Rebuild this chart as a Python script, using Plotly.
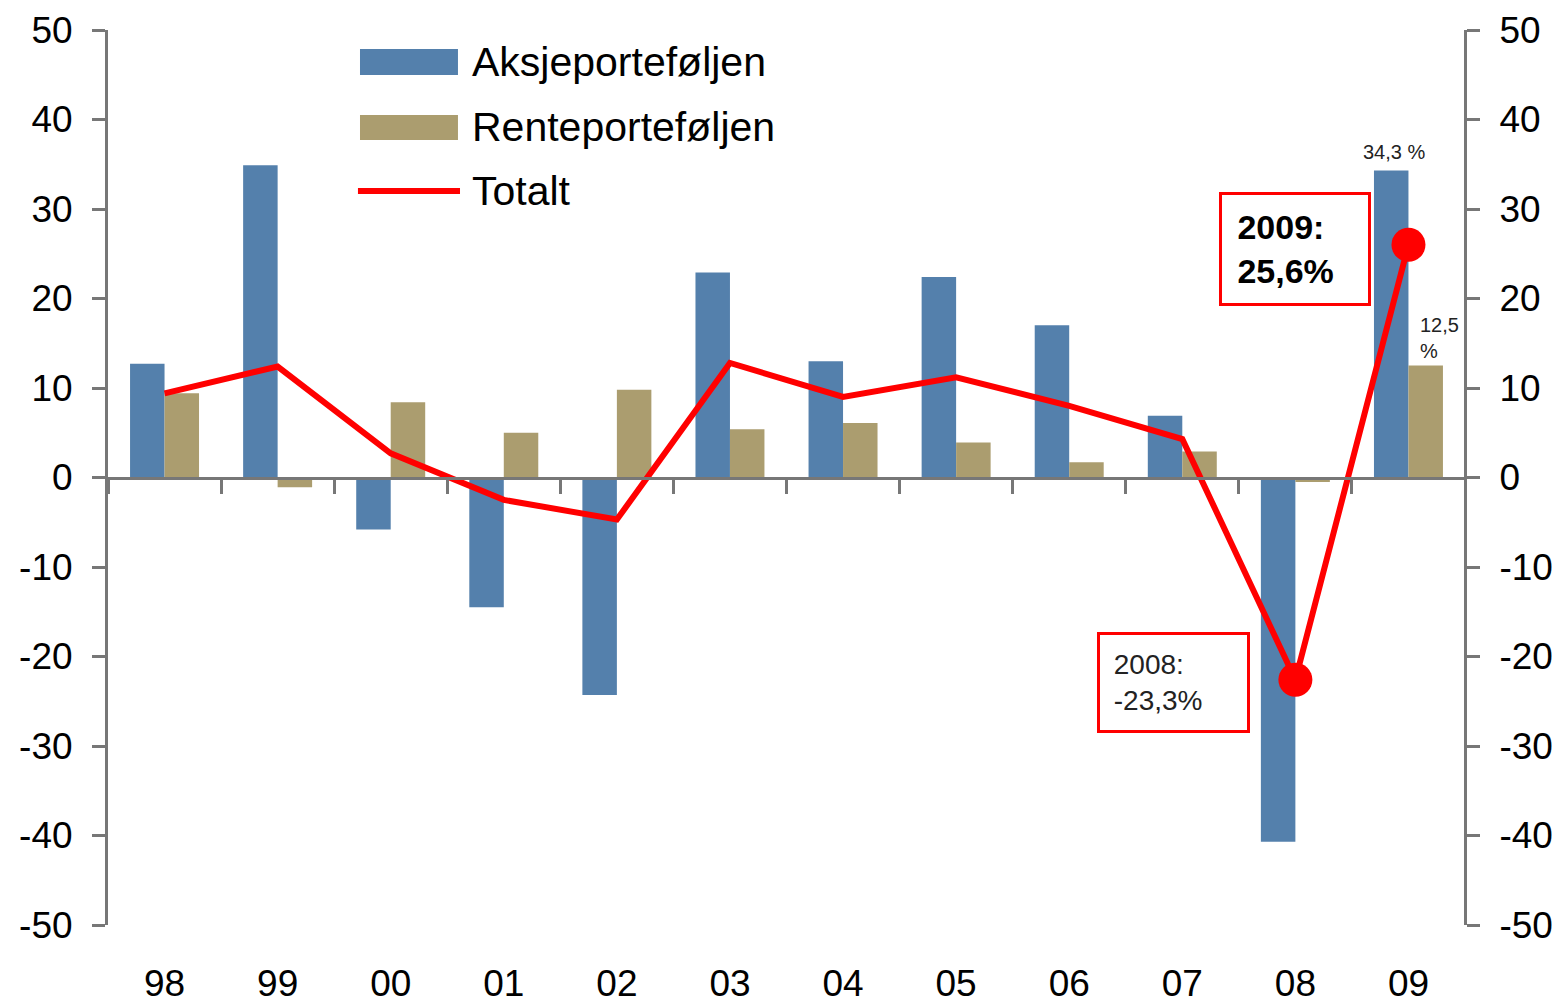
import plotly.graph_objects as go

# ---- data ----
years = ["98", "99", "00", "01", "02", "03", "04", "05", "06", "07", "08", "09"]
aksje = [12.7, 34.9, -5.8, -14.5, -24.3, 22.9, 13.0, 22.4, 17.0, 6.9, -40.7, 34.3]
rente = [9.4, -1.1, 8.4, 5.0, 9.8, 5.4, 6.1, 3.9, 1.7, 2.9, -0.5, 12.5]
totalt = [9.4, 12.4, 2.7, -2.5, -4.7, 12.8, 9.0, 11.2, 8.0, 4.3, -22.6, 26.0]
marker_sizes = [0, 0, 0, 0, 0, 0, 0, 0, 0, 0, 34, 34]
y_ticks = [50, 40, 30, 20, 10, 0, -10, -20, -30, -40, -50]

BLUE = "#5480AC"
GOLD = "#AB9D6F"
RED = "#FF0000"
GRAY = "#777777"
FONT = "Liberation Sans, Arial, sans-serif"

fig = go.Figure()
fig.add_trace(go.Bar(x=years, y=aksje, name="Aksjeporteføljen", marker_color=BLUE,
                     marker_line_width=0, showlegend=False))
fig.add_trace(go.Bar(x=years, y=rente, name="Renteporteføljen", marker_color=GOLD,
                     marker_line_width=0, showlegend=False))
fig.add_trace(go.Scatter(x=years, y=totalt, name="Totalt", mode="lines+markers",
                         line=dict(color=RED, width=6),
                         marker=dict(color=RED, size=marker_sizes, line_width=0, opacity=1),
                         xaxis="x2", yaxis="y2", showlegend=False, cliponaxis=False))

axis_common = dict(range=[-50, 50], tickvals=y_ticks, ticktext=[str(v) for v in y_ticks],
                   showgrid=False, zeroline=False, showline=True, linecolor=GRAY,
                   linewidth=3, ticks="outside", ticklen=13, tickwidth=3, tickcolor=GRAY,
                   tickfont=dict(family=FONT, size=37, color="#000000"),
                   ticklabelstandoff=12, automargin=False)

cat_range = [-0.5, len(years) - 0.5]

# page body adds an 8px offset, so the figure is sized to fit inside the window
fig.update_layout(
    width=1556, height=997,
    margin=dict(l=100, r=99, t=22, b=80),
    paper_bgcolor="white", plot_bgcolor="white",
    barmode="group", bargap=0.39, bargroupgap=0,
    font=dict(family=FONT, color="#000000"),
    xaxis=dict(type="category", range=cat_range, autorange=False,
               showline=False, showgrid=False, zeroline=False,
               ticks="", tickfont=dict(family=FONT, size=37, color="#000000"),
               ticklabelstandoff=33, automargin=False),
    xaxis2=dict(type="category", overlaying="x", matches="x", anchor="free",
                position=0.5, showline=True, linecolor=GRAY, linewidth=3,
                ticks="outside", ticklen=14, tickwidth=3, tickcolor=GRAY,
                tickson="boundaries", showticklabels=False, showgrid=False,
                zeroline=False, automargin=False),
    yaxis=dict(side="left", **axis_common),
    yaxis2=dict(side="right", overlaying="y", anchor="free", position=1,
                **axis_common),
)

# ---- legend (drawn in paper coordinates) ----
fig.add_shape(type="rect", xref="paper", yref="paper", x0=0.1857, x1=0.2579,
              y0=0.9497, y1=0.9788, fillcolor=BLUE, line_width=0)
fig.add_shape(type="rect", xref="paper", yref="paper", x0=0.1857, x1=0.2579,
              y0=0.8771, y1=0.9050, fillcolor=GOLD, line_width=0)
fig.add_shape(type="line", xref="paper", yref="paper", x0=0.1842, x1=0.2594,
              y0=0.8201, y1=0.8201, line=dict(color=RED, width=6))
for label, yy in [("Aksjeporteføljen", 0.9642), ("Renteporteføljen", 0.8916), ("Totalt", 0.8201)]:
    fig.add_annotation(xref="paper", yref="paper", x=0.2668, y=yy, text=label,
                       showarrow=False, xanchor="left", yanchor="middle",
                       font=dict(family=FONT, size=41, color="#000000"))

# ---- data labels (category index positions) ----
idx09 = years.index("09")
idx08 = years.index("08")
fig.add_annotation(x=idx09, y=aksje[idx09], text="34,3 %", showarrow=False,
                   xanchor="center", yanchor="bottom", xshift=-14, yshift=6,
                   font=dict(family=FONT, size=20, color="#222222"))
fig.add_annotation(x=idx09, y=rente[idx09], text="12,5<br>%", showarrow=False,
                   xanchor="left", yanchor="bottom", align="left", xshift=10, yshift=2,
                   font=dict(family=FONT, size=20, color="#222222"))

# ---- callout boxes ----
fig.add_annotation(x=idx08, y=25.5, text="&nbsp;2009:<br>&nbsp;25,6%", showarrow=False,
                   xanchor="center", yanchor="middle", align="left",
                   width=134, height=96, borderpad=6, bordercolor=RED, borderwidth=3,
                   bgcolor="white",
                   font=dict(family=FONT, size=34, color="#000000", weight="bold"))
fig.add_annotation(x=idx08 - 1.08, y=-22.95, text="&nbsp;2008:<br>&nbsp;-23,3%", showarrow=False,
                   xanchor="center", yanchor="middle", align="left",
                   width=135, height=83, borderpad=6, bordercolor=RED, borderwidth=3,
                   bgcolor="white",
                   font=dict(family=FONT, size=28, color="#222222"))

fig.write_html("out.html")
